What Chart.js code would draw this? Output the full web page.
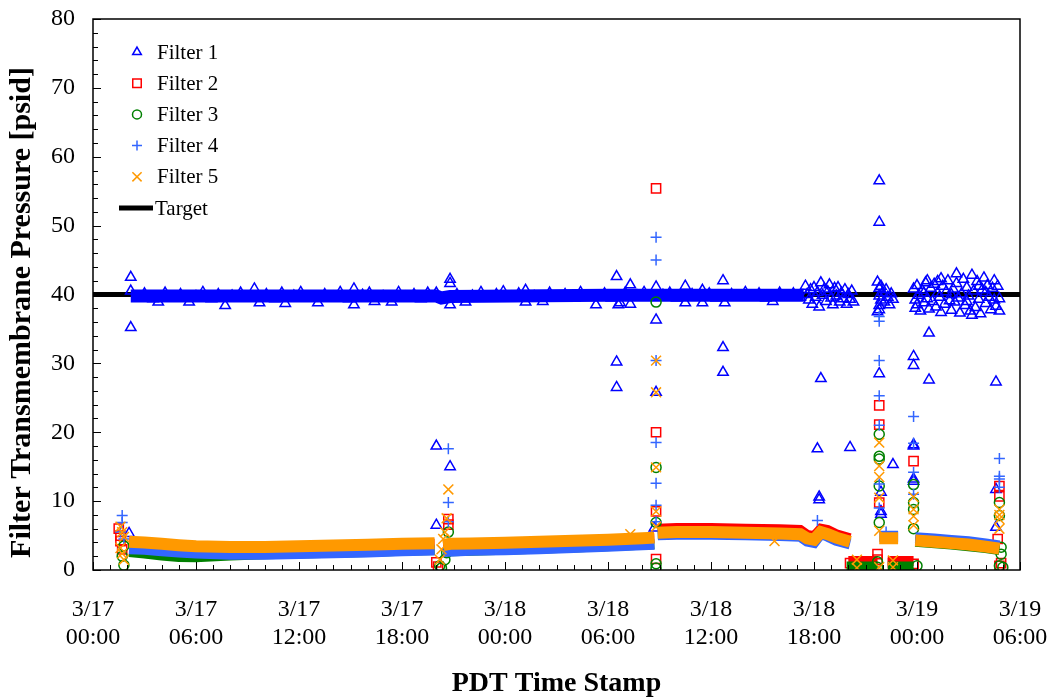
<!DOCTYPE html>
<html>
<head>
<meta charset="utf-8">
<title>Filter Transmembrane Pressure</title>
<script src="https://cdn.jsdelivr.net/npm/chart.js@4.4.0/dist/chart.umd.min.js"></script>
<style>
  body { margin: 0; background: #fff; }
  #wrap { width: 1054px; height: 698px; }
</style>
</head>
<body>
<div id="wrap"><canvas id="tmp" width="1054" height="698"></canvas></div>
<script>
// x = hours since 3/17 00:00 PDT, y = psid
const tickLabels = [["3/17","00:00"],["3/17","06:00"],["3/17","12:00"],["3/17","18:00"],["3/18","00:00"],
  ["3/18","06:00"],["3/18","12:00"],["3/18","18:00"],["3/19","00:00"],["3/19","06:00"]];

const target = [[0,40],[54,40]];

// dense triangle band around the target
const filter1Band = [[2.2,39.8],[20,39.8],[20.3,39.5],[20.8,39.7],[30,39.9],[41.4,39.9]];

const filter1 = [
  [2.2,42.5],[2.2,35.2],[2.1,5.3],
  [2.2,40.5],[2.6,39.6],[3.0,40.1],[3.5,39.4],[3.8,38.9],[4.2,40.2],[4.7,39.5],[5.1,40.0],[5.6,38.9],[6.0,39.7],
  [6.4,40.3],[6.9,39.4],[7.3,40.0],[7.7,38.4],[8.1,39.8],[8.6,40.2],[9.0,39.5],[9.4,40.8],[9.7,38.8],[10.1,40.0],
  [10.6,39.4],[11.0,40.2],[11.2,38.7],[11.7,39.8],[12.1,40.3],[12.6,39.5],[13.1,38.8],[13.5,40.0],[14.0,39.6],
  [14.4,40.3],[14.9,39.4],[15.2,38.5],[15.2,40.8],[15.7,39.9],[16.1,40.2],[16.4,39.0],[16.9,39.7],[17.4,38.9],
  [17.8,40.3],[18.2,39.6],[18.7,40.0],[19.1,39.4],[19.5,40.2],[19.9,39.7],[20.0,40.2],
  [20.0,18.0],[20.0,6.5],[20.8,15.0],[20.8,42.2],[20.8,41.6],[20.8,38.5],
  [21.2,40.0],[21.7,38.9],[22.1,39.8],[22.6,40.3],[23.0,39.5],[23.5,40.0],[23.9,40.4],[24.4,39.6],[24.8,40.1],
  [25.2,38.9],[25.2,40.6],[25.7,39.7],[26.2,39.0],[26.6,40.2],[27.1,39.5],[27.5,40.0],[28.0,39.7],[28.4,40.3],
  [28.9,39.6],[29.3,38.5],[29.8,40.1],[30.2,39.5],[30.6,38.5],[30.7,38.8],[31.0,40.2],[31.3,41.4],[31.3,38.6],
  [31.7,39.8],[32.1,40.3],[32.5,39.6],
  [30.5,42.6],[30.5,30.2],[30.5,26.5],
  [32.8,41.1],[32.8,36.3],[32.8,25.8],[32.7,6.1],
  [33.2,39.9],[33.6,40.2],[34.0,39.5],[34.5,41.2],[34.5,38.8],[34.9,40.0],[35.3,39.6],[35.5,38.8],[35.5,40.6],
  [35.9,40.1],[36.3,39.5],[36.8,38.8],[36.7,42.0],[37.2,40.0],[37.6,39.6],[38.0,40.3],[38.4,39.7],[38.8,40.1],
  [39.2,39.5],[39.6,39.0],[40.0,40.2],[40.4,39.7],[40.8,40.1],[41.2,39.6],
  [36.7,32.3],[36.7,28.7],
  [41.5,41.2],[41.6,40.0],[41.7,39.2],[41.8,40.7],[41.9,38.6],[42.0,41.0],[42.1,39.6],[42.2,40.3],[42.3,38.2],
  [42.4,41.7],[42.5,39.9],[42.6,40.8],[42.7,39.0],[42.8,40.4],[42.9,41.4],[43.0,39.5],[43.1,38.5],[43.2,40.9],
  [43.3,39.8],[43.4,41.0],[43.5,38.9],[43.6,40.2],[43.7,39.4],[43.8,40.7],[43.9,38.6],[44.0,40.0],[44.1,39.3],
  [44.2,40.5],[44.3,38.9],
  [42.4,27.8],[42.2,17.6],[42.3,10.6],[42.3,10.2],[44.1,17.8],
  [45.7,41.8],[45.8,40.9],[45.8,39.8],[45.9,41.2],[45.8,38.4],[45.7,37.5],[45.9,39.2],[46.0,40.3],[46.1,38.9],
  [46.2,40.7],[46.3,39.6],[46.4,38.5],[46.5,40.1],[46.6,39.3],[45.8,37.8],
  [45.8,56.5],[45.8,50.5],[45.8,28.5],[45.9,11.3],[45.9,8.5],[45.9,8.1],[46.6,15.3],
  [47.8,40.8],[47.9,39.2],[47.9,38.0],[48.0,41.3],[48.1,39.9],[48.2,37.6],[48.3,40.6],[48.4,38.8],[48.5,41.7],
  [48.6,39.4],[48.7,37.9],[48.8,40.9],[48.9,39.0],[49.0,41.5],[49.1,38.2],[49.2,40.2],[49.3,39.6],[49.4,37.4],
  [49.5,41.2],[49.6,38.6],[49.7,40.4],[49.8,42.0],[49.9,39.1],[50.0,37.7],[50.1,40.8],[50.2,38.9],[50.3,41.6],
  [50.4,39.5],[50.5,37.3],[50.6,40.1],[50.7,42.2],[50.8,38.4],[50.9,41.0],[51.0,39.8],[51.1,37.6],[51.2,42.8],
  [51.3,40.5],[51.4,38.1],[51.5,41.9],[51.6,39.3],[51.7,37.2],[51.8,40.7],[51.9,42.4],[52.0,38.7],[52.1,41.3],
  [52.2,39.6],[52.3,37.8],[52.4,40.9],[52.5,42.0],[52.6,38.3],[52.7,41.2],[52.8,39.4],[52.8,37.6],[51.2,37.0],
  [50.3,43.0],[49.4,42.3],[48.6,42.0],[52.0,40.3],[51.6,41.2],[50.9,39.0],[50.0,40.0],[49.2,41.9],[48.4,40.2],
  [48.0,38.5],[52.5,39.2],
  [48.7,34.4],[47.8,31.0],[47.8,29.7],[48.7,27.6],[47.8,18.2],[47.8,18.0],[47.8,13.2],[47.8,12.9],
  [52.6,27.3],[52.6,11.7],[52.6,6.2]
];

const filter2Band = [[2.1,4.0],[6,3.4],[12,3.4],[19.9,3.8],[20.1,null],[20.4,3.6],[32.7,4.6],[32.75,null],
  [32.9,6.0],[34,6.1],[36,6.1],[38,6.0],[40,5.9],[41.2,5.8],[41.6,5.1],[42,4.9],[42.4,6.0],[42.8,5.8],[43.3,5.2],
  [44.1,4.6],[44.15,null],[44.0,1.3],[45.7,1.3],[45.75,null],[46.3,1.3],[47.8,1.3],[47.85,null],
  [47.9,4.4],[50,4.0],[52,3.5],[52.8,3.2]];
const filter2 = [
  [1.5,6.0],[1.6,5.0],[1.6,4.2],[1.7,3.0],
  [20.7,7.4],[20.7,6.6],[20.0,1.1],[20.1,0.5],
  [32.8,55.4],[32.8,20.0],[32.8,8.5],[32.8,1.6],
  [44.1,1.0],[45.8,23.9],[45.8,21.1],[45.8,9.8],[45.7,2.3],[45.7,1.5],[46.6,1.0],
  [47.8,15.8],[47.8,0.9],
  [52.8,12.2],[52.8,10.7],[52.7,4.5],[52.8,0.6],[52.9,1.0]
];

const filter3Band = [[2.1,2.6],[3,2.4],[4,2.1],[5,1.9],[6,1.85],[8,2.1],[10,2.3],[12,2.4],[14,2.5],[16,2.6],
  [18,2.8],[19.9,2.9],[20.1,null],[20.4,2.7],[24,2.95],[28,3.25],[32.7,3.75],[32.75,null],[32.9,5.2],[36,5.3],
  [40,5.1],[41.2,5.0],[41.6,4.4],[42,4.2],[42.4,5.3],[42.8,5.0],[43.3,4.5],[43.7,4.1],[43.8,null],
  [43.9,0.5],[45.7,0.5],[45.75,null],[46.3,0.5],[47.8,0.5],[47.85,null],[47.9,4.1],[50,3.7],[52,3.2],[52.8,2.9]];
const filter3 = [
  [1.8,0.7],[1.7,2.0],[1.8,3.5],
  [20.2,0.6],[20.3,0.3],[20.5,1.5],[20.6,2.5],[20.7,5.5],
  [32.8,38.9],[32.8,14.9],[32.8,6.9],[32.8,0.9],[32.8,0.3],
  [45.8,19.7],[45.8,16.5],[45.8,16.1],[45.8,12.2],[45.8,6.9],[45.7,1.2],[45.7,0.4],
  [47.8,12.4],[47.8,9.8],[47.8,8.8],[47.8,6.0],[48.0,0.6],
  [52.8,9.8],[52.8,7.9],[52.9,3.3],[52.9,2.3],[52.8,0.6],[53.0,0.4]
];

const filter4Band = [[2.1,3.1],[3,3.0],[4,2.8],[5,2.6],[6,2.45],[8,2.3],[10,2.3],[12,2.4],[14,2.5],[16,2.6],
  [18,2.8],[19.9,2.9],[20.1,null],[20.4,2.7],[22,2.85],[24,2.95],[26,3.1],[28,3.25],[30,3.45],[32,3.65],
  [32.7,3.75],[32.75,null],[32.9,5.1],[34,5.2],[36,5.2],[38,5.1],[40,5.0],[41.2,4.9],[41.6,4.2],[42,4.0],
  [42.4,5.3],[42.8,4.9],[43.3,4.3],[44.1,3.8],[45,null],[45.8,4.9],[46.9,4.9],[47.3,null],
  [47.9,4.7],[49,4.5],[50,4.3],[51,4.1],[52,3.8],[52.8,3.5]];
const filter4 = [
  [1.7,7.9],[1.7,6.9],[1.6,5.5],[1.8,4.5],
  [20.7,17.6],[20.7,9.8],[20.7,7.0],
  [32.8,48.3],[32.8,45.0],[32.8,30.4],[32.8,18.5],[32.8,12.6],[32.8,9.4],[32.8,7.0],
  [42.2,7.2],
  [45.8,36.8],[45.8,36.1],[45.8,30.4],[45.8,25.3],[45.8,21.0],[45.8,12.5],[45.8,9.0],[46.2,5.5],
  [47.8,22.3],[47.8,18.4],[47.8,14.2],[47.8,11.0],
  [52.8,16.2],[52.8,13.6],[52.8,13.2],[52.8,12.0]
];

const filter5Band = [[2.1,4.1],[3,4.0],[4,3.8],[5,3.6],[6,3.45],[8,3.35],[10,3.35],[12,3.45],[14,3.55],[16,3.65],
  [18,3.8],[19.9,3.9],[20.1,null],[20.4,3.6],[20.8,3.8],[22,3.85],[24,3.95],[26,4.1],[28,4.25],[30,4.4],[32,4.6],
  [32.7,4.7],[32.75,null],[32.9,5.4],[34,5.5],[36,5.5],[38,5.4],[40,5.3],[41.2,5.2],[41.6,4.6],[42,4.4],[42.4,5.5],
  [42.8,5.2],[43.3,4.7],[44.1,4.1],[45,null],[45.8,4.6],[46.9,4.6],[47.3,null],
  [47.9,4.3],[49,4.1],[50,3.9],[51,3.7],[52,3.4],[52.8,3.1]];
const filter5 = [
  [1.6,6.3],[1.7,5.5],[1.8,4.8],[1.6,3.2],[1.7,2.4],[1.8,1.5],
  [20.7,11.7],[20.6,7.5],[20.5,5.5],[20.4,4.5],[20.3,3.0],[20.2,1.5],
  [31.3,5.2],
  [32.8,30.4],[32.8,25.8],[32.8,14.9],[32.8,8.5],[32.8,6.3],
  [39.7,4.2],
  [44.5,1.5],[44.5,0.3],
  [45.8,18.5],[45.8,15.1],[45.8,13.5],[45.8,10.5],[45.8,5.7],[45.8,0.4],
  [46.6,1.4],[46.6,0.4],
  [47.8,10.6],[47.8,8.8],[47.8,7.8],[47.8,6.5],
  [52.8,8.8],[52.8,8.0],[52.8,7.4],[52.8,6.0]
];

function pts(arr) {
  return arr.map(p => ({ x: p[0], y: p[1] }));
}

function band(data, color, width, order) {
  return { label: '', data: pts(data), showLine: true, borderColor: color, borderWidth: width,
    pointRadius: 0, spanGaps: false, order: order };
}

function marks(label, data, color, style, radius, order) {
  return { label: label, data: pts(data), showLine: false, pointStyle: style, pointRadius: radius,
    borderColor: color, pointBorderColor: color, pointBackgroundColor: 'rgba(0,0,0,0)',
    backgroundColor: 'rgba(0,0,0,0)', pointBorderWidth: 1.5, order: order };
}

const font = 'Liberation Serif';

// inward ticks, frame, y title and the legend inside the plot
const frame = {
  id: 'frame',
  afterDraw(chart) {
    const ctx = chart.ctx;
    const a = chart.chartArea;
    const x = chart.scales.x, y = chart.scales.y;
    ctx.save();
    ctx.strokeStyle = '#000';
    ctx.lineWidth = 1;
    ctx.beginPath();
    for (let h = 0; h <= 54; h++) {
      const px = Math.round(x.getPixelForValue(h)) + 0.5;
      ctx.moveTo(px, a.bottom);
      ctx.lineTo(px, a.bottom - (h % 6 ? 5 : 8));
    }
    for (let v = 0; v <= 80; v += 2) {
      const py = Math.round(y.getPixelForValue(v)) + 0.5;
      ctx.moveTo(a.left, py);
      ctx.lineTo(a.left + (v % 10 ? 5 : 8), py);
    }
    ctx.stroke();
    ctx.lineWidth = 1.5;
    ctx.strokeRect(a.left, a.top, a.right - a.left, a.bottom - a.top);

    // y axis title, sits a bit below the plot centre like the original
    ctx.save();
    ctx.translate(22, (a.top + a.bottom) / 2 + 18);
    ctx.rotate(-Math.PI / 2);
    ctx.font = 'bold 30px "' + font + '"';
    ctx.textAlign = 'center';
    ctx.textBaseline = 'middle';
    ctx.fillStyle = '#000';
    ctx.fillText('Filter Transmembrane Pressure [psid]', 0, 0);
    ctx.restore();

    // legend
    let row = 0;
    ctx.font = '21px "' + font + '"';
    ctx.textBaseline = 'middle';
    ctx.fillStyle = '#000';
    chart.data.datasets.forEach(ds => {
      if (!ds.legend) return;
      const ly = a.top + 33 + row * 31.2;
      if (ds.showLine) {
        ctx.strokeStyle = ds.borderColor;
        ctx.lineWidth = ds.borderWidth;
        ctx.beginPath();
        ctx.moveTo(a.left + 26, ly);
        ctx.lineTo(a.left + 60, ly);
        ctx.stroke();
        ctx.fillText(ds.label, a.left + 62, ly + 1);
      } else {
        ctx.strokeStyle = ds.pointBorderColor;
        ctx.fillStyle = 'rgba(0,0,0,0)';
        ctx.lineWidth = 1.5;
        Chart.helpers.drawPoint(ctx, { pointStyle: ds.pointStyle, radius: ds.legendRadius, rotation: 0, borderWidth: 1.5 },
          a.left + 44, ly);
        ctx.fillStyle = '#000';
        ctx.fillText(ds.label, a.left + 64, ly + 1);
      }
      row++;
    });
    ctx.restore();
  }
};

const datasets = [
  Object.assign(band(target, '#000000', 5, 20), { label: 'Target', legend: true }),
  band(filter1Band, '#0000FF', 13, 19),
  Object.assign(marks('Filter 1', filter1, '#0000FF', 'triangle', 6, 18), { legend: true, legendRadius: 5 }),
  band(filter2Band, '#FF0000', 10, 17),
  Object.assign(marks('Filter 2', filter2, '#FF0000', 'rect', 6.5, 16), { legend: true, legendRadius: 6 }),
  band(filter3Band, '#008000', 10, 15),
  Object.assign(marks('Filter 3', filter3, '#008000', 'circle', 5, 14), { legend: true, legendRadius: 4.5 }),
  band(filter4Band, '#3366FF', 11, 13),
  Object.assign(marks('Filter 4', filter4, '#3366FF', 'cross', 5.5, 12), { legend: true, legendRadius: 5 }),
  band(filter5Band, '#FF9900', 12, 11),
  Object.assign(marks('Filter 5', filter5, '#FF9900', 'crossRot', 7, 10), { legend: true, legendRadius: 6.5 })
];
// legend rows run Filter 1..5 then Target
datasets.push(datasets.shift());

new Chart(document.getElementById('tmp'), {
  type: 'scatter',
  data: { datasets: datasets },
  options: {
    responsive: false,
    animation: false,
    layout: { padding: { top: 19, right: 34, bottom: 0, left: 0 } },
    plugins: { legend: { display: false }, tooltip: { enabled: false } },
    scales: {
      x: {
        type: 'linear', min: 0, max: 54,
        // tick marks are drawn by the plugin; tickLength only spaces the labels
        grid: { display: false, drawTicks: true, tickLength: 26 },
        border: { display: false },
        ticks: {
          stepSize: 6, autoSkip: false, maxRotation: 0, padding: 0, color: '#000',
          font: { family: font, size: 24, lineHeight: 1.17 },
          callback: v => tickLabels[Math.round(v / 6)]
        },
        title: { display: true, text: 'PDT Time Stamp', color: '#000',
          font: { family: font, size: 28, weight: 'bold', lineHeight: 1 }, padding: { top: 0, bottom: 0 } },
        afterFit: s => { s.height = 128; }
      },
      y: {
        min: 0, max: 80,
        grid: { display: false, drawTicks: true, tickLength: 18 },
        border: { display: false },
        ticks: { stepSize: 10, padding: 0, color: '#000', font: { family: font, size: 24 } },
        title: { display: false },
        afterFit: s => { s.width = 93; }
      }
    }
  },
  plugins: [frame]
});
</script>
</body>
</html>
